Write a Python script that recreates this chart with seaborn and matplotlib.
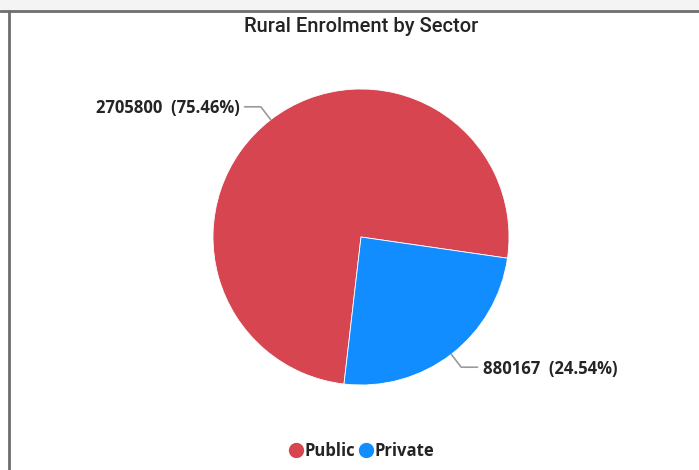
import numpy as np
import seaborn as sns
import matplotlib.pyplot as plt
from matplotlib.lines import Line2D
from matplotlib.patches import Rectangle

sectors = ["Public", "Private"]
enrolment = [2705800, 880167]
colors = ["#D64550", "#118DFF"]

sns.set_theme(style="white")
plt.rcParams["font.family"] = ["Open Sans", "DejaVu Sans"]

W, H = 699, 470
fig = plt.figure(figsize=(W / 100, H / 100), dpi=100)
fig.patch.set_facecolor("white")

# light strip above the visual and frame lines (top and left only)
fig.add_artist(Rectangle((0, 1 - 10 / H), 1, 10 / H, transform=fig.transFigure,
                         color="#f4f4f4", lw=0))
fig.add_artist(Line2D([0, 1], [1 - 11 / H, 1 - 11 / H], color="#6e6e6e", lw=2))
fig.add_artist(Line2D([9 / W, 9 / W], [0, 1 - 11 / H], color="#6e6e6e", lw=2))

# pie axes: center (361, 237) px, radius ~148 px
cx, cy, r = 361, 237, 148
ax = fig.add_axes([(cx - r) / W, 1 - (cy + r) / H, 2 * r / W, 2 * r / H])
total = sum(enrolment)
wedges, _ = ax.pie(enrolment, colors=colors, startangle=263.4, counterclock=False,
                   radius=1, wedgeprops=dict(linewidth=0.6, edgecolor="white"))
ax.set_xlim(-1, 1)
ax.set_ylim(-1, 1)
ax.set_aspect("equal")
ax.axis("off")

for w, val in zip(wedges, enrolment):
    mid = np.deg2rad((w.theta1 + w.theta2) / 2)
    x0, y0 = np.cos(mid) * 1.0, np.sin(mid) * 1.0
    x1, y1 = np.cos(mid) * 1.11, np.sin(mid) * 1.11
    side = 1 if x1 > 0 else -1
    x2 = x1 + side * 0.11
    ax.plot([x0, x1, x2], [y0, y1, y1], color="#9a9a9a", lw=1.2, clip_on=False)
    label = f"{val}  ({val / total * 100:.2f}%)"
    ax.text(x2 + side * 0.035, y1 - 0.01, label, ha="left" if side > 0 else "right",
            va="center", fontsize=12, fontweight="bold", color="#252423")

fig.text(361 / W, 1 - 26 / H, "Rural Enrolment by Sector", ha="center", va="center",
         fontsize=14.5, fontweight="medium", color="#252423",
         family=["Roboto", "DejaVu Sans"])

handles = [Line2D([], [], marker="o", ls="", markersize=10, color=c) for c in colors]
leg = fig.legend(handles, sectors, loc="center", bbox_to_anchor=(360 / W, 1 - 451 / H),
                 ncol=2, frameon=False, handletextpad=-0.1, columnspacing=0.05,
                 handlelength=1.2, prop=dict(weight="bold", size=12))
for t in leg.get_texts():
    t.set_color("#252423")

fig.savefig("out.png", dpi=100)
